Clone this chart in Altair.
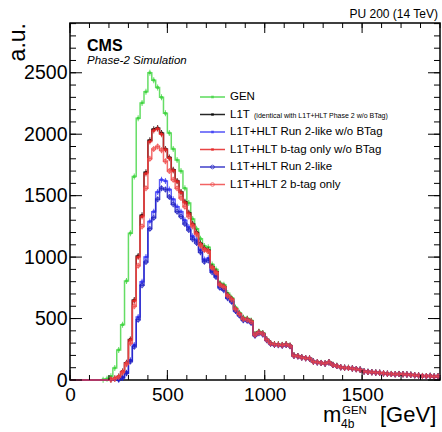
import altair as alt
import pandas as pd

# ---------------- data (20 GeV bins, lower edges 0 ... 1880) ----------------
bin_lo = list(range(0, 1900, 20))

gen = [0, 0, 0, 0, 0, 0, 0, 0,
       3, 10, 30, 98, 245, 450, 806, 1195, 1655, 2130, 2255, 2345,
       2500, 2440, 2380, 2300, 2170, 2010, 1880, 1790, 1700, 1560,
       1440, 1310, 1230, 1150, 1090, 1080, 940, 900, 790, 775,
       705, 670, 590, 548, 508, 500, 485, 375, 395, 382,
       332, 302, 292, 290, 286, 292, 281, 201, 196, 186,
       180, 176, 151, 146, 140, 136, 146, 125, 116, 105,
       101, 100, 95, 90, 86, 71, 68, 65, 62, 60,
       55, 52, 50, 48, 50, 48, 46, 44, 40, 38,
       34, 33, 35, 30, 32]

l1t = [0, 0, 0, 0, 0, 0, 0, 0, 0, 0,
       5, 12, 28, 70, 140, 330, 650, 1010, 1340, 1690,
       1950, 2040, 2050, 2010, 1880, 1810, 1710, 1620, 1530, 1450,
       1360, 1270, 1200, 1110, 1070, 1055, 920, 880, 780, 760,
       690, 660, 580, 540, 500, 495, 478, 370, 390, 378,
       330, 300, 290, 288, 284, 290, 279, 200, 195, 185,
       179, 175, 150, 145, 139, 135, 145, 124, 115, 104,
       100, 99, 94, 89, 85, 70, 67, 64, 61, 59,
       54, 51, 49, 47, 49, 47, 45, 43, 39, 37,
       33, 32, 34, 29, 31]

run2_nob = [0, 0, 0, 0, 0, 0, 0, 0, 0, 0, 0, 0,
            5, 20, 60, 160, 285, 513, 800, 1000,
            1290, 1370, 1530, 1630, 1620, 1550, 1470, 1410, 1370, 1300,
            1245, 1170, 1140, 1060, 980, 990, 890, 850, 760, 740,
            672, 642, 566, 528, 490, 486, 468, 364, 384, 372,
            326, 296, 287, 285, 281, 287, 276, 198, 193, 183,
            178, 174, 150, 144, 139, 134, 144, 123, 114, 104,
            100, 98, 94, 89, 85, 70, 67, 64, 61, 58,
            54, 51, 49, 47, 49, 46, 45, 43, 39, 37,
            33, 32, 34, 29, 31]

btag_nob = [0, 0, 0, 0, 0, 0, 0, 0, 0, 0,
            5, 12, 27, 68, 138, 326, 645, 1000, 1330, 1680,
            1940, 2030, 2045, 2000, 1875, 1805, 1705, 1615, 1525, 1445,
            1355, 1265, 1195, 1105, 1068, 1052, 918, 878, 778, 758,
            688, 658, 578, 538, 498, 493, 476, 369, 389, 377,
            329, 299, 289, 287, 283, 289, 278, 199, 194, 184,
            178, 174, 149, 144, 138, 134, 144, 123, 114, 103,
            99, 98, 93, 88, 84, 69, 66, 63, 60, 58,
            53, 50, 48, 46, 48, 46, 44, 42, 38, 36,
            32, 31, 33, 28, 30]

run2 = [0, 0, 0, 0, 0, 0, 0, 0, 0, 0, 0, 0,
        4, 18, 55, 150, 270, 490, 770, 960,
        1230, 1320, 1470, 1560, 1550, 1490, 1430, 1370, 1330, 1270,
        1220, 1145, 1115, 1040, 962, 972, 876, 838, 750, 731,
        665, 636, 561, 524, 486, 482, 465, 361, 381, 370,
        324, 294, 285, 283, 279, 285, 275, 197, 192, 183,
        177, 173, 149, 143, 138, 133, 143, 122, 113, 103,
        99, 97, 93, 88, 84, 69, 66, 63, 60, 58,
        53, 50, 48, 46, 48, 46, 44, 42, 38, 36,
        33, 31, 33, 29, 30]

btag2 = [0, 0, 0, 0, 0, 0, 0, 0, 0, 0,
         4, 10, 25, 62, 128, 300, 600, 930, 1250, 1560,
         1800, 1880, 1900, 1870, 1780, 1700, 1630, 1560, 1480, 1410,
         1330, 1250, 1185, 1095, 1058, 1045, 912, 872, 774, 754,
         684, 655, 575, 536, 496, 491, 474, 367, 386, 375,
         327, 298, 288, 286, 282, 288, 277, 198, 193, 184,
         178, 174, 149, 144, 138, 134, 144, 123, 114, 104,
         99, 98, 93, 88, 84, 70, 66, 63, 61, 58,
         54, 51, 48, 47, 48, 46, 45, 42, 39, 37,
         33, 32, 33, 29, 31]

series_names = ["GEN", "L1T", "L1T+HLT Run 2-like w/o BTag",
                "L1T+HLT b-tag only w/o BTag", "L1T+HLT Run 2-like",
                "L1T+HLT 2 b-tag only"]
series_values = [gen, l1t, run2_nob, btag_nob, run2, btag2]
series_colors = ["#3ed43e", "#000000", "#3535f5", "#e42424", "#1c1cc0", "#f04848"]
series_marker = ["square", "square", "square", "square", "circle", "circle"]

x_major = [0, 500, 1000, 1500]
x_minor = list(range(0, 1901, 100))
y_major = [0, 500, 1000, 1500, 2000, 2500]
y_minor = list(range(0, 2901, 100))

# ---------------- chart ----------------
W, H = 370, 357
FONT = "Liberation Sans"
xs = alt.Scale(domain=[0, 1900], nice=False, zero=False)
ys = alt.Scale(domain=[0, 2905], nice=False, zero=False)
xaxis = alt.Axis(values=x_major, ticks=False, domain=False, grid=False, title=None,
                 labelFont=FONT, labelFontSize=19, labelColor="black", labelPadding=5,
                 labelFlush=False, labelOverlap=False, format="d")
yaxis = alt.Axis(values=y_major, ticks=False, domain=False, grid=False, title=None,
                 labelFont=FONT, labelFontSize=19.5, labelColor="black", labelPadding=3,
                 labelFlush=False, labelOverlap=False, format="d")

layers = []

for name, vals, col, mk in zip(series_names, series_values, series_colors, series_marker):
    edges = bin_lo + [bin_lo[-1] + 20]
    step_df = pd.DataFrame({"m": edges, "v": vals + [vals[-1]]})
    pts = [(b + 10, v) for b, v in zip(bin_lo, vals) if v > 0]
    pt_df = pd.DataFrame({"m": [p[0] for p in pts], "v": [p[1] for p in pts]})
    enc = dict(x=alt.X("m:Q", scale=xs, axis=xaxis), y=alt.Y("v:Q", scale=ys, axis=yaxis))
    layers.append(alt.Chart(step_df).mark_line(interpolate="step-after", color=col,
                                               strokeWidth=1.5, opacity=0.8).encode(**enc))
    layers.append(alt.Chart(pt_df).mark_tick(orient="vertical", size=6, thickness=1,
                                             color=col, opacity=0.8).encode(**enc))
    if mk == "square":
        layers.append(alt.Chart(pt_df).mark_point(shape="square", filled=True, size=7,
                                                  color=col, opacity=0.9).encode(**enc))
    else:
        layers.append(alt.Chart(pt_df).mark_point(shape="circle", filled=False, size=14,
                                                  strokeWidth=1, color=col, opacity=0.8).encode(**enc))

# inward ticks on all four sides
def xticks(vals, length):
    d = pd.DataFrame({"m": vals})
    b = alt.Chart(d).mark_rule(color="black", strokeWidth=1).encode(
        x=alt.X("m:Q", scale=xs, axis=xaxis), y=alt.value(H), y2=alt.value(H - length))
    t = alt.Chart(d).mark_rule(color="black", strokeWidth=1).encode(
        x=alt.X("m:Q", scale=xs, axis=xaxis), y=alt.value(0), y2=alt.value(length))
    return [b, t]

def yticks(vals, length):
    d = pd.DataFrame({"v": vals})
    l = alt.Chart(d).mark_rule(color="black", strokeWidth=1).encode(
        y=alt.Y("v:Q", scale=ys, axis=yaxis), x=alt.value(0), x2=alt.value(length))
    r = alt.Chart(d).mark_rule(color="black", strokeWidth=1).encode(
        y=alt.Y("v:Q", scale=ys, axis=yaxis), x=alt.value(W), x2=alt.value(W - length))
    return [l, r]

layers += xticks(x_minor, 5) + xticks(x_major, 10) + yticks(y_minor, 6) + yticks(y_major, 12)

def text(s, x, y, size, weight="normal", style="normal", align="left",
         baseline="alphabetic", angle=0):
    kw = dict(align=align, baseline=baseline, font=FONT, fontSize=size,
              fontWeight=weight, fontStyle=style, color="black")
    if angle:
        kw["angle"] = angle
    return alt.Chart(pd.DataFrame({"t": [s]})).mark_text(**kw).encode(
        text="t:N", x=alt.value(x), y=alt.value(y))

layers.append(text("a.u.", -45, 0, 23, align="right", angle=270))
layers.append(text("PU 200 (14 TeV)", 368, -5, 12, align="right"))
layers.append(text("CMS", 17, 28, 16, weight="bold"))
layers.append(text("Phase-2 Simulation", 17, 41, 11.5, style="italic"))
layers.append(text("m", 253, 399, 22))
layers.append(text("GEN", 272, 391, 11.5))
layers.append(text("4b", 271, 405, 12))
layers.append(text("[GeV]", 310, 399, 22))

# legend
leg_y0, leg_dy = 74, 17.5
for i, (name, col, mk) in enumerate(zip(series_names, series_colors, series_marker)):
    yy = leg_y0 + i * leg_dy
    d = pd.DataFrame({"t": [name]})
    layers.append(alt.Chart(d).mark_rule(color=col, strokeWidth=1.5, opacity=0.85).encode(
        x=alt.value(130), x2=alt.value(155), y=alt.value(yy)))
    if mk == "square":
        layers.append(alt.Chart(d).mark_point(shape="square", filled=True, size=7, color=col).encode(
            x=alt.value(142.5), y=alt.value(yy)))
    else:
        layers.append(alt.Chart(d).mark_point(shape="circle", filled=False, size=14,
                                              strokeWidth=1, color=col).encode(
            x=alt.value(142.5), y=alt.value(yy)))
    layers.append(text(name, 160, yy, 11.5, baseline="middle"))
    if name == "L1T":
        layers.append(text("(identical with L1T+HLT Phase 2 w/o BTag)", 184, yy + 1, 7,
                           baseline="middle"))

chart = alt.layer(*layers).properties(
    width=W, height=H,
    autosize=alt.AutoSizeParams(type="none"),
    padding={"left": 70, "top": 23, "right": 2, "bottom": 52},
    background="white",
).configure_view(stroke="black", strokeWidth=1.5)

chart.save("out.html", embed_options={"renderer": "svg", "actions": False})
